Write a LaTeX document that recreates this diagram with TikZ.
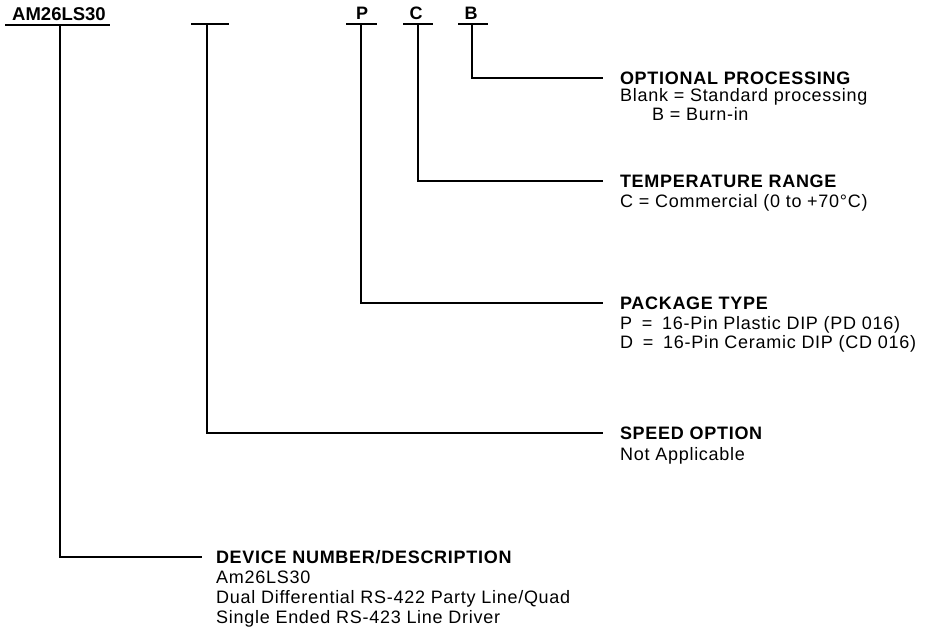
\documentclass[tikz,border=0pt]{standalone}
\usepackage{fontspec}
\setmainfont{Liberation Sans}
\newfontfamily\bodyfont[LetterSpace=4]{Liberation Sans}
\newfontfamily\headfont[LetterSpace=4]{Liberation Sans}
\begin{document}
\begin{tikzpicture}[x=1pt,y=-1pt,
  ln/.style={line width=2pt},
  head/.style={font=\headfont\bfseries\fontsize{18}{21}\selectfont, inner sep=0pt,
    outer xsep=17pt, outer ysep=0pt, text height=12.9pt, text depth=0pt, anchor=base west},
  body/.style={font=\bodyfont\fontsize{18}{21}\selectfont, inner sep=0pt, anchor=base west},
  letter/.style={font=\bfseries\fontsize{18}{20}\selectfont, inner sep=0pt, anchor=base}]
\useasboundingbox (0,0) rectangle (929,630);

% part number and field markers
\node[font=\bfseries\fontsize{18.5}{20}\selectfont, inner sep=0pt, anchor=base west] (pn) at (12,20) {AM26LS30};
\node[letter] (lP) at (362,19) {P};
\node[letter] (lC) at (416,19) {C};
\node[letter] (lB) at (471,19) {B};

\coordinate (amL) at (5,25);   \coordinate (amR) at (110,25);  \coordinate (amV) at (60,25);
\coordinate (spL) at (191,23.5); \coordinate (spR) at (229,23.5); \coordinate (spV) at (207,23.5);
\coordinate (pL) at (346,23.5);  \coordinate (pR) at (377,23.5);  \coordinate (pV) at (361,23.5);
\coordinate (cL) at (403,23.5);  \coordinate (cR) at (433,23.5);  \coordinate (cV) at (418,23.5);
\coordinate (bL) at (458,23.5);  \coordinate (bR) at (488,23.5);  \coordinate (bV) at (472,23.5);

\draw[ln] (amL) -- (amR);
\draw[ln] (spL) -- (spR);
\draw[ln] (pL) -- (pR);
\draw[ln] (cL) -- (cR);
\draw[ln] (bL) -- (bR);

% OPTIONAL PROCESSING
\node[head] (hOpt) at (603,84) {OPTIONAL PROCESSING};
\node[body] (bOpt1) at (620,101) {Blank = Standard processing};
\node[body] (bOpt2) at (652,120) {B = Burn-in};

% TEMPERATURE RANGE
\node[head] (hTmp) at (603,187) {TEMPERATURE RANGE};
\node[body] (bTmp1) at (620,207) {C = Commercial (0 to +70°C)};

% PACKAGE TYPE
\node[head] (hPkg) at (603,309) {PACKAGE TYPE};
\node[body] (bPkg1) at (620,329) {P\hspace{4pt} = \hspace{4pt}16-Pin Plastic DIP (PD 016)};
\node[body] (bPkg2) at (620,348) {D\hspace{4pt} = \hspace{4pt}16-Pin Ceramic DIP (CD 016)};

% SPEED OPTION
\node[head] (hSpd) at (603,439) {SPEED OPTION};
\node[body] (bSpd1) at (620,460) {Not Applicable};

% DEVICE NUMBER/DESCRIPTION
\node[head, outer xsep=14pt] (hDev) at (202,563) {DEVICE NUMBER/DESCRIPTION};
\node[body] (bDev1) at (216,583) {Am26LS30};
\node[body] (bDev2) at (216,603) {Dual Differential RS-422 Party Line/Quad};
\node[body] (bDev3) at (216,623) {Single Ended RS-423 Line Driver};

% connectors
\draw[ln] (bV) |- (hOpt.west);
\draw[ln] (cV) |- (hTmp.west);
\draw[ln] (pV) |- (hPkg.west);
\draw[ln] (spV) |- (hSpd.west);
\draw[ln] (amV) |- (hDev.west);
\end{tikzpicture}
\end{document}
